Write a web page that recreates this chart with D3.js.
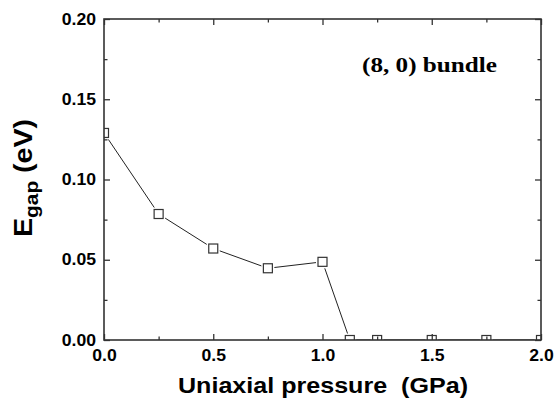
<!DOCTYPE html>
<html>
<head>
<meta charset="utf-8">
<script src="https://cdn.jsdelivr.net/npm/d3@7"></script>
<style>
  body { margin: 0; background: #fff; }
  svg { display: block; }
</style>
</head>
<body>
<script>
var pressure = [0, 0.25, 0.5, 0.75, 1.0, 1.125, 1.25, 1.5, 1.75, 2.0];
var egap = [0.129, 0.0785, 0.057, 0.0447, 0.0487, 0, 0, 0, 0, 0];
var xTicks = [0, 0.5, 1.0, 1.5, 2.0];
var xMinor = [0.25, 0.75, 1.25, 1.75];
var yTicks = [0, 0.05, 0.10, 0.15, 0.20];
var yMinor = [0.025, 0.075, 0.125, 0.175];
var label = "(8, 0) bundle";

var width = 558, height = 408;
// note: "top" is taken by window.top, so use plot* names
var plotL = 104, plotR = 541, plotT = 19, plotB = 340;
var stretch = 1.1; // glyphs in the picture are a bit wider than the font

var svg = d3.select("body").append("svg")
    .attr("width", width)
    .attr("height", height);

var x = d3.scaleLinear().domain([0, 2]).range([plotL, plotR]);
var y = d3.scaleLinear().domain([0, 0.2]).range([plotB, plotT]);

svg.append("clipPath").attr("id", "plot")
    .append("rect")
    .attr("x", plotL).attr("y", plotT)
    .attr("width", plotR - plotL).attr("height", plotB - plotT);

var plot = svg.append("g").attr("clip-path", "url(#plot)");

var pts = pressure.map((p, i) => [p, egap[i]]);

plot.append("path")
    .datum(pts)
    .attr("fill", "none")
    .attr("stroke", "#222")
    .attr("stroke-width", 1)
    .attr("d", d3.line().x(d => x(d[0])).y(d => y(d[1])));

// white halo so the line stops a little short of each marker
plot.selectAll("rect.halo")
    .data(pts)
    .enter()
        .append("rect")
        .attr("class", "halo")
        .attr("x", d => x(d[0]) - 6.5)
        .attr("y", d => y(d[1]) - 6.5)
        .attr("width", 13).attr("height", 13)
        .attr("fill", "#fff");

plot.selectAll("rect.mark")
    .data(pts)
    .enter()
        .append("rect")
        .attr("class", "mark")
        .attr("x", d => x(d[0]) - 4.5)
        .attr("y", d => y(d[1]) - 4.5)
        .attr("width", 9).attr("height", 9)
        .attr("fill", "#fff")
        .attr("stroke", "#333")
        .attr("stroke-width", 1.2);

function styleAxis(g) {
    g.select(".domain").remove();
    g.selectAll("line").attr("stroke", "#333").attr("stroke-width", 1.3);
    g.selectAll("text")
        .attr("fill", "#000")
        .style("font-family", "'Liberation Sans', Arial, sans-serif")
        .style("font-weight", "bold")
        .style("font-size", "16px");
}

// bottom
svg.append("g").attr("transform", "translate(0," + plotB + ")")
    .call(d3.axisBottom(x).tickValues(xTicks).tickFormat(d3.format(".1f"))
        .tickSizeInner(-6).tickSizeOuter(0).tickPadding(10))
    .call(styleAxis);
svg.append("g").attr("transform", "translate(0," + plotB + ")")
    .call(d3.axisBottom(x).tickValues(xMinor).tickFormat("").tickSizeInner(-3.5).tickSizeOuter(0))
    .call(styleAxis);
// top
svg.append("g").attr("transform", "translate(0," + plotT + ")")
    .call(d3.axisTop(x).tickValues(xTicks).tickFormat("").tickSizeInner(-6).tickSizeOuter(0))
    .call(styleAxis);
svg.append("g").attr("transform", "translate(0," + plotT + ")")
    .call(d3.axisTop(x).tickValues(xMinor).tickFormat("").tickSizeInner(-3.5).tickSizeOuter(0))
    .call(styleAxis);
// left
svg.append("g").attr("transform", "translate(" + plotL + ",0)")
    .call(d3.axisLeft(y).tickValues(yTicks).tickFormat(d3.format(".2f"))
        .tickSizeInner(-6).tickSizeOuter(0).tickPadding(8))
    .call(styleAxis);
svg.append("g").attr("transform", "translate(" + plotL + ",0)")
    .call(d3.axisLeft(y).tickValues(yMinor).tickFormat("").tickSizeInner(-3.5).tickSizeOuter(0))
    .call(styleAxis);
// right
svg.append("g").attr("transform", "translate(" + plotR + ",0)")
    .call(d3.axisRight(y).tickValues(yTicks).tickFormat("").tickSizeInner(-6).tickSizeOuter(0))
    .call(styleAxis);
svg.append("g").attr("transform", "translate(" + plotR + ",0)")
    .call(d3.axisRight(y).tickValues(yMinor).tickFormat("").tickSizeInner(-3.5).tickSizeOuter(0))
    .call(styleAxis);

// frame
svg.append("rect")
    .attr("x", plotL).attr("y", plotT)
    .attr("width", plotR - plotL).attr("height", plotB - plotT)
    .attr("fill", "none")
    .attr("stroke", "#333")
    .attr("stroke-width", 1.6);

var ytitle = svg.append("text")
    .attr("transform", "translate(32,178) rotate(-90)")
    .attr("text-anchor", "middle")
    .style("font-family", "'Liberation Sans', Arial, sans-serif")
    .style("font-weight", "bold")
    .style("font-size", "26px");
ytitle.append("tspan").text("E");
ytitle.append("tspan").attr("dy", 6).style("font-size", "19px").text("gap");
ytitle.append("tspan").attr("dy", -6).text(" (eV)");

// widen the tick labels and y title a little to match the picture
svg.selectAll("text").each(function() {
    var w = this.getComputedTextLength();
    if (w > 0) d3.select(this).attr("textLength", w * stretch).attr("lengthAdjust", "spacingAndGlyphs");
});

svg.append("text")
    .attr("x", (plotL + plotR) / 2 + 0.5)
    .attr("y", 393)
    .attr("text-anchor", "middle")
    .attr("textLength", 290)
    .attr("lengthAdjust", "spacingAndGlyphs")
    .style("font-family", "'Liberation Sans', Arial, sans-serif")
    .style("font-weight", "bold")
    .style("font-size", "22px")
    .attr("xml:space", "preserve")
    .text("Uniaxial pressure  (GPa)");

svg.append("text")
    .attr("x", 362)
    .attr("y", 72)
    .attr("textLength", 135)
    .attr("lengthAdjust", "spacingAndGlyphs")
    .style("font-family", "'Liberation Serif', 'Times New Roman', serif")
    .style("font-weight", "bold")
    .style("font-size", "22px")
    .text(label);
</script>
</body>
</html>
